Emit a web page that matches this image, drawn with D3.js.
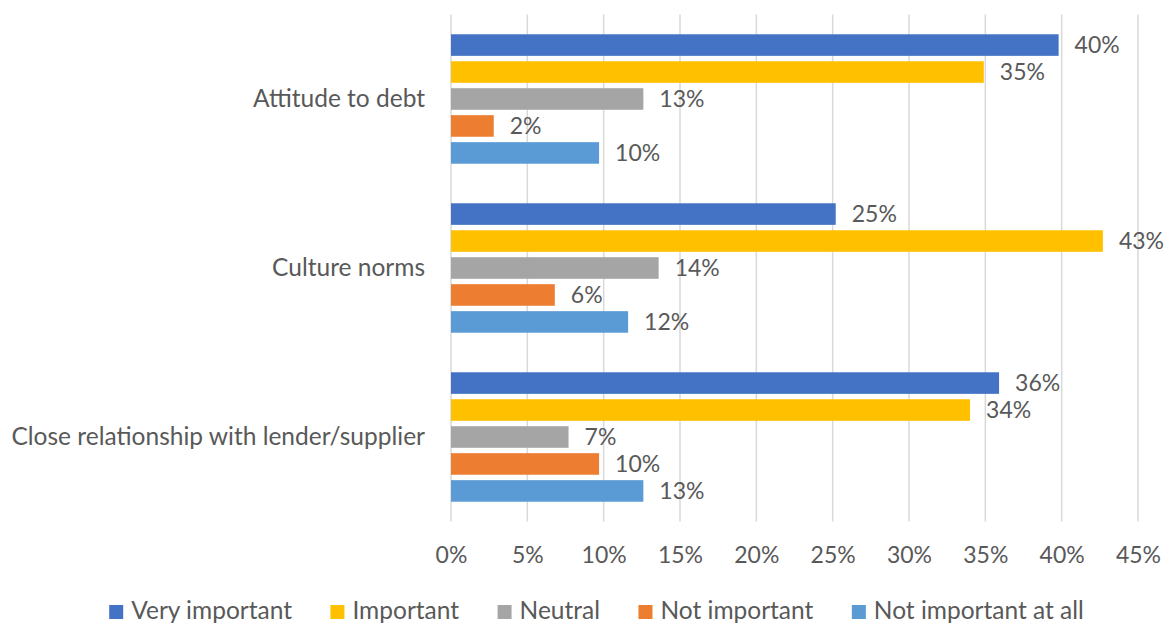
<!DOCTYPE html>
<html><head><meta charset="utf-8">
<script src="https://cdn.jsdelivr.net/npm/d3@7/dist/d3.min.js"></script>
<style>body{margin:0;background:#fff}svg{display:block}text{font-family:Lato,"Open Sans",sans-serif;fill:#595959}</style>
</head><body><svg id="c" width="1168" height="623"></svg>
<script>
const categories = ["Attitude to debt", "Culture norms", "Close relationship with lender/supplier"];
const seriesNames = ["Very important", "Important", "Neutral", "Not important", "Not important at all"];
const seriesColors = ["#4472C4", "#FFC000", "#A5A5A5", "#ED7D31", "#5B9BD5"];
const veryImportant = [0.398, 0.252, 0.359];
const important = [0.349, 0.427, 0.340];
const neutral = [0.126, 0.136, 0.077];
const notImportant = [0.028, 0.068, 0.097];
const notImportantAtAll = [0.097, 0.116, 0.126];
const labelsVery = ["40%", "25%", "36%"];
const labelsImp = ["35%", "43%", "34%"];
const labelsNeu = ["13%", "14%", "7%"];
const labelsNot = ["2%", "6%", "10%"];
const labelsNotAll = ["10%", "12%", "13%"];
const ticks = [0, 0.05, 0.10, 0.15, 0.20, 0.25, 0.30, 0.35, 0.40, 0.45];

const seriesValues = [veryImportant, important, neutral, notImportant, notImportantAtAll];
const seriesLabels = [labelsVery, labelsImp, labelsNeu, labelsNot, labelsNotAll];

const svg = d3.select("#c");
const x = d3.scaleLinear().domain([0, 0.45]).range([451, 1138]);
const y0 = d3.scaleBand().domain(categories).range([14.5, 521.5]).paddingInner(0.234).paddingOuter(0.117);
const y1 = d3.scaleBand().domain(seriesNames).range([0, y0.bandwidth()]).paddingInner(0.2);

// gridlines
svg.append("g").selectAll("line").data(ticks).join("line")
  .attr("x1", d => x(d)).attr("x2", d => x(d))
  .attr("y1", 14.5).attr("y2", 521.5)
  .attr("stroke", "#d9d9d9").attr("stroke-width", 1.5);

// axis labels
const xAxis = d3.axisBottom(x).tickValues(ticks).tickFormat(d3.format(".0%")).tickSize(0).tickPadding(0);
const ax = svg.append("g").attr("transform", "translate(0,563)").call(xAxis);
ax.select(".domain").remove();
ax.selectAll("text").attr("dy", 0).style("font-size", "23px").attr("fill", "#595959").attr("font-family", "Lato");

// category labels
const yAxis = d3.axisLeft(y0).tickSize(0).tickPadding(26);
const ay = svg.append("g").attr("transform", "translate(451,0)").call(yAxis);
ay.select(".domain").remove();
ay.selectAll("text").style("font-size", "24.5px").attr("fill", "#595959").attr("font-family", "Lato");

// bars
seriesNames.forEach((s, si) => {
  const g = svg.append("g");
  g.selectAll("rect").data(categories).join("rect")
    .attr("x", x(0))
    .attr("y", (c) => y0(c) + y1(s))
    .attr("width", (c, i) => x(seriesValues[si][i]) - x(0))
    .attr("height", y1.bandwidth())
    .attr("fill", seriesColors[si]);
  g.selectAll("text").data(categories).join("text")
    .attr("x", (c, i) => x(seriesValues[si][i]) + 16)
    .attr("y", (c) => y0(c) + y1(s) + y1.bandwidth() / 2)
    .attr("dy", "0.36em")
    .style("font-size", "23px")
    .text((c, i) => seriesLabels[si][i]);
});

// legend
const lg = svg.append("g");
let items = [];
seriesNames.forEach((s, i) => {
  const it = lg.append("g");
  it.append("rect").attr("width", 14).attr("height", 14).attr("y", -14).attr("fill", seriesColors[i]);
  const t = it.append("text").attr("x", 22).attr("y", 0).style("font-size", "24.5px").text(s);
  items.push({g: it, w: 22 + t.node().getComputedTextLength()});
});
const gap = 38.5;
const total = d3.sum(items, d => d.w) + gap * (items.length - 1);
let cx = 596.5 - total / 2;
items.forEach(d => { d.g.attr("transform", `translate(${cx},619)`); cx += d.w + gap; });
</script></body></html>
